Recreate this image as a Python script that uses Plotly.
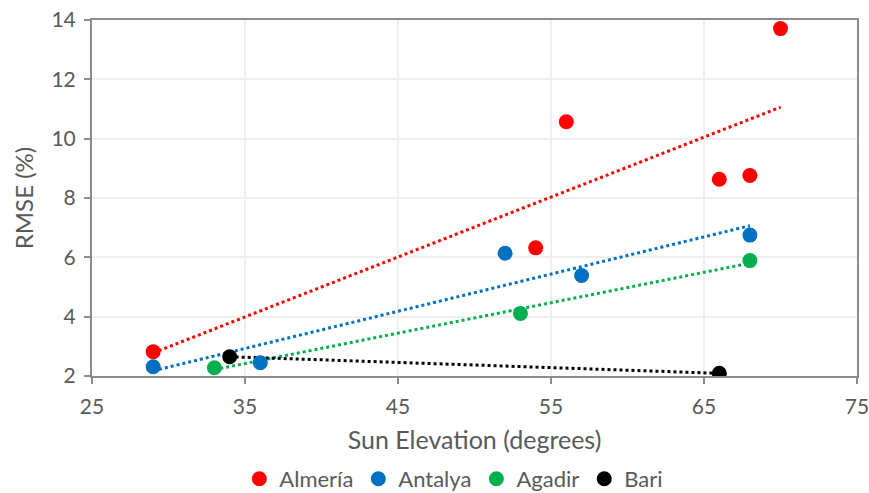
import numpy as np
import plotly.graph_objects as go

series_names = ["Almería", "Antalya", "Agadir", "Bari"]
colors = ["#ff0000", "#0070c0", "#00b050", "#000000"]
almeria_x = [29, 54, 56, 66, 68, 70]
almeria_y = [2.82, 6.32, 10.57, 8.63, 8.76, 13.71]
antalya_x = [29, 36, 52, 57, 68]
antalya_y = [2.31, 2.45, 6.14, 5.39, 6.75]
agadir_x = [33, 53, 68]
agadir_y = [2.28, 4.11, 5.89]
bari_x = [34, 66]
bari_y = [2.65, 2.09]

xs = [almeria_x, antalya_x, agadir_x, bari_x]
ys = [almeria_y, antalya_y, agadir_y, bari_y]

font_family = "Lato, 'Open Sans', sans-serif"
grey = "#595959"

fig = go.Figure()
# trendlines (least squares fit of each series)
for name, c, x, y in zip(series_names, colors, xs, ys):
    k, b = np.polyfit(x, y, 1)
    tx = np.array([min(x), max(x)])
    fig.add_trace(go.Scatter(x=tx, y=k * tx + b, mode="lines",
                             line=dict(color=c, width=3, dash="dot"),
                             showlegend=False, hoverinfo="skip"))
for name, c, x, y in zip(series_names, colors, xs, ys):
    fig.add_trace(go.Scatter(x=x, y=y, mode="markers", name=name,
                             marker=dict(color=c, size=15)))

axis_common = dict(showline=True, linecolor="#8c8c8c", linewidth=2, mirror=True,
                   showgrid=True, gridcolor="#efefef", gridwidth=1.5,
                   ticks="outside", ticklen=6, tickcolor="#8c8c8c", tickwidth=1.5,
                   tickfont=dict(family=font_family, size=21, color=grey),
                   zeroline=False, automargin=False, ticklabeloverflow="allow")

fig.update_xaxes(range=[25, 75], tickvals=[25, 35, 45, 55, 65, 75],
                 ticklabelstandoff=5,
                 title=dict(text="Sun Elevation (degrees)", standoff=14,
                            font=dict(family=font_family, size=25, color=grey)),
                 **axis_common)
fig.update_yaxes(range=[2, 14], tickvals=[2, 4, 6, 8, 10, 12, 14],
                 ticklabelstandoff=4,
                 title=dict(text="RMSE (%)", standoff=11,
                            font=dict(family=font_family, size=24, color=grey)),
                 **axis_common)

fig.update_layout(
    width=869, height=493,
    margin=dict(l=92, r=12, t=20, b=117, autoexpand=False),
    plot_bgcolor="white", paper_bgcolor="white",
    font=dict(family=font_family, color=grey),
    legend=dict(orientation="h", x=0.473, xanchor="center", y=-0.289, yanchor="middle",
                font=dict(family=font_family, size=22, color=grey),
                itemwidth=30, tracegroupgap=0),
)

fig.write_html("out.html", config={"displayModeBar": False},
               post_script="document.body.style.margin='0';document.body.style.overflow='hidden';")
